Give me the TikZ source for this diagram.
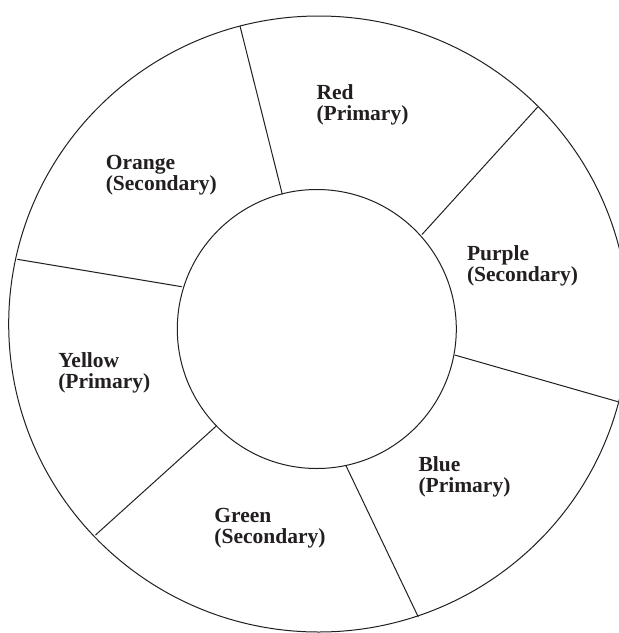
\documentclass[tikz,border=0pt]{standalone}
\usepackage{fontspec}
\setmainfont{Liberation Serif}
\definecolor{ink}{HTML}{231F20}
\begin{document}
\begin{tikzpicture}[x=1pt,y=-1pt]
\tikzset{
  ring/.style={draw=ink, line width=1pt},
  divider/.style={draw=ink, line width=1pt},
  lbl/.style={anchor=base west, inner sep=0pt, outer sep=0pt, align=left,
    font=\bfseries\fontsize{21.5}{21}\selectfont, text=ink}
}
\useasboundingbox (0,0) rectangle (619,633);
\clip (0,0) rectangle (619,633);
\fill[white] (0,0) rectangle (619,633);
% outer ring
\draw[ring] (318.7,324) ellipse [x radius=310, y radius=308];
% inner hub
\node[ring, circle, inner sep=0pt, minimum size=279pt] (hub) at (316.8,329) {};
% divider ends
\coordinate (o1) at (240,26);    \coordinate (i1) at (282.3,194.3);
\coordinate (o2) at (537.7,107); \coordinate (i2) at (422,234.5);
\coordinate (o3) at (618,401.7); \coordinate (i3) at (454.7,355);
\coordinate (o4) at (418.3,617); \coordinate (i4) at (346,465.7);
\coordinate (o5) at (95.5,535);  \coordinate (i5) at (216.3,426);
\coordinate (o6) at (17.3,259.3);\coordinate (i6) at (181.7,286.7);
\draw[divider] (o1) -- (i1);
\draw[divider] (o2) -- (i2);
\draw[divider] (o3) -- (i3);
\draw[divider] (o4) -- (i4);
\draw[divider] (o5) -- (i5);
\draw[divider] (o6) -- (i6);
% labels (anchor = baseline of the second line)
\node[lbl] (red)    at (316.5,120)   {Red\\(Primary)};
\node[lbl] (orange) at (105.8,190.4) {Orange\\(Secondary)};
\node[lbl] (purple) at (467,281.5)   {Purple\\(Secondary)};
\node[lbl] (yellow) at (58.3,388.3)  {Yellow\\(Primary)};
\node[lbl] (blue)   at (418.5,492.4) {Blue\\(Primary)};
\node[lbl] (green)  at (214.4,543.3) {Green\\(Secondary)};
\end{tikzpicture}
\end{document}
